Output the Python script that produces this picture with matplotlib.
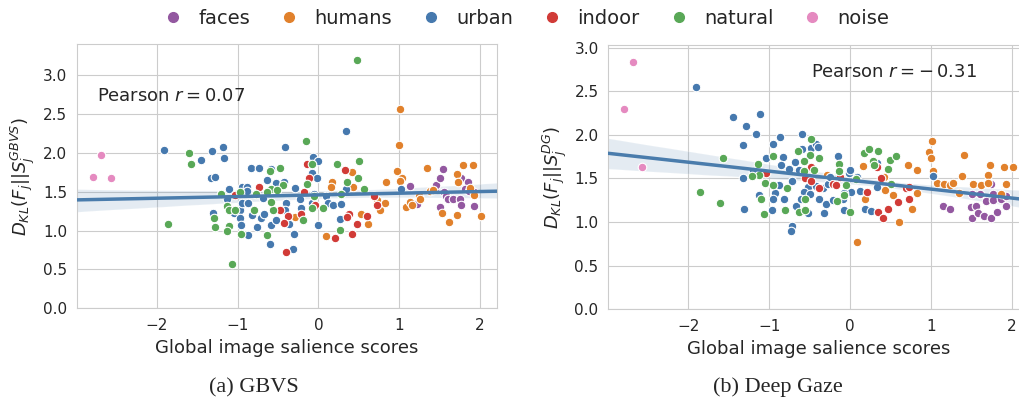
import matplotlib
matplotlib.use("Agg")
import matplotlib.pyplot as plt
from matplotlib.lines import Line2D
import seaborn as sns
import numpy as np

# (a) GBVS : x = global image salience score, y = D_KL
faces_a_x = [1.14, 1.22, 1.44, 1.46, 1.51, 1.51, 1.55, 1.54, 1.58, 1.61, 1.67, 1.75, 1.77, 1.77, 1.85, 1.81, 1.86, 1.92, 1.93]
faces_a_y = [1.57, 1.34, 1.53, 1.59, 1.67, 1.30, 1.50, 1.79, 1.44, 1.41, 1.41, 1.41, 1.33, 1.67, 1.62, 1.54, 1.51, 1.32, 1.50]
humans_a_x = [1.01, 1.00, 0.97, 1.03, 1.01, 0.41, 0.43, 0.17, 0.16, -0.29, 0.09, 0.53, 0.62, 0.72, 0.76, 0.83, 0.84, 1.08,
              1.13, 1.16, 1.24, 1.26, 1.35, 1.38, 1.42, 1.53, 1.62, 1.71, 1.73, 1.71, 1.79, 1.88, 1.91, 1.93, 2.01]
humans_a_y = [2.57, 2.10, 1.77, 1.68, 1.64, 1.75, 1.56, 1.62, 1.56, 1.18, 0.93, 1.21, 1.08, 1.39, 1.27, 1.36, 1.63, 1.30,
              1.37, 1.33, 1.45, 1.41, 1.81, 1.51, 1.52, 1.23, 1.11, 1.73, 1.63, 1.20, 1.84, 1.55, 1.84, 1.46, 1.19]
urban_a_x = [-1.91, -1.45, -1.32, -1.18, -1.17, -1.33, -1.28, -1.11, -1.13, -1.31, -1.04, -0.97, -0.97, -0.96, -0.87,
             -0.94, -0.88, -0.88, -0.94, -0.87, -0.82, -0.83, -0.73, -0.76, -0.71, -0.67, -0.68, -0.63, -0.58, -0.52,
             -0.59, -0.60, -0.52, -0.42, -0.41, -0.40, -0.41, -0.36, -0.30, -0.32, -0.29, -0.23, -0.21, -0.19, -0.07,
             0.00, -0.08, -0.02, -0.06, -0.08, 0.00, 0.10, 0.12, 0.18, 0.28, 0.27, 0.34, 0.34, 1.02]
urban_a_y = [2.03, 1.91, 2.02, 2.07, 1.93, 1.67, 1.69, 1.54, 1.41, 1.22, 1.22, 1.27, 1.16, 1.07, 0.94,
             1.56, 1.56, 1.51, 1.36, 1.36, 1.20, 1.81, 1.81, 1.04, 1.16, 1.21, 1.42, 1.65, 1.79, 1.61,
             1.07, 0.83, 1.14, 1.62, 2.07, 1.35, 1.27, 1.08, 0.96, 0.76, 1.55, 1.41, 1.29, 1.15, 1.95,
             1.89, 1.74, 1.67, 1.47, 1.36, 1.07, 1.44, 1.35, 1.33, 1.34, 1.15, 2.28, 1.53, 1.54]
indoor_a_x = [-1.03, -0.74, -0.14, -0.12, -0.18, -0.48, -0.38, -0.42, -0.40, -0.22, -0.04, 0.21, 0.33, 0.38, 0.35,
              0.41, 0.48, 0.60, 0.73, 0.69]
indoor_a_y = [1.46, 1.56, 1.86, 1.67, 1.49, 1.26, 1.19, 1.10, 0.72, 1.21, 1.33, 0.91, 1.78, 1.21, 1.17,
              0.95, 1.09, 1.19, 1.33, 1.44]
natural_a_x = [0.48, -1.60, -1.57, -1.86, -0.15, -0.60, -0.48, 0.50, 0.23, 0.49, 0.35, 0.57, -0.44, -0.58, -0.51,
               -0.63, -0.77, -1.20, -1.13, -1.10, -1.29, -1.28, -1.11, -1.13, -0.96, -0.64, -1.07, -0.56, -0.58,
               -0.08, -0.14, -0.08, 0.06, -0.05, 0.27, 0.28, -0.19, -0.80, -0.97, -1.03]
natural_a_y = [3.19, 2.00, 1.86, 1.08, 2.15, 1.76, 1.81, 1.90, 1.86, 1.68, 1.62, 1.53, 1.59, 1.53, 1.52,
               1.49, 1.47, 1.47, 1.32, 1.26, 1.16, 1.04, 1.06, 0.99, 0.96, 0.94, 0.57, 1.26, 1.37,
               1.86, 1.60, 1.29, 1.29, 1.44, 1.01, 1.47, 1.14, 1.26, 1.50, 1.26]
noise_a_x = [-2.79, -2.69, -2.57]
noise_a_y = [1.69, 1.97, 1.68]

# (b) Deep Gaze
faces_b_x = [1.15, 1.23, 1.51, 1.49, 1.51, 1.56, 1.58, 1.61, 1.66, 1.68, 1.74, 1.74, 1.77, 1.77, 1.82, 1.86, 1.93, 1.93]
faces_b_y = [1.19, 1.15, 1.32, 1.17, 1.05, 1.19, 1.10, 1.32, 1.07, 1.24, 1.44, 1.05, 1.32, 1.25, 1.12, 1.27, 1.19, 1.30]
humans_b_x = [1.01, 0.98, 1.00, 1.03, 0.16, 0.18, 0.08, -0.29, 0.42, 0.43, 0.53, 0.61, 0.71, 0.76, 0.83, 0.83,
              1.08, 1.16, 1.23, 1.27, 1.35, 1.38, 1.41, 1.52, 1.62, 1.70, 1.73, 1.71, 1.86, 1.90, 1.93, 2.01]
humans_b_y = [1.93, 1.80, 1.73, 1.58, 1.64, 1.26, 0.77, 1.54, 1.52, 1.37, 1.31, 1.00, 1.66, 1.15, 1.60, 1.33,
              1.45, 1.44, 1.43, 1.45, 1.33, 1.53, 1.77, 1.44, 1.42, 1.54, 1.66, 1.45, 1.32, 1.63, 1.44, 1.63]
urban_b_x = [-1.91, -1.45, -1.29, -1.11, -1.17, -1.33, -0.87, -0.96, -0.59, -0.83, -1.04, -0.86, -0.76, -0.68, -0.63,
             -0.49, -0.60, -0.42, -0.40, -1.32, -1.20, -0.88, -0.72, -0.52, -0.57, -0.50, -0.93, -0.96, -0.82, -1.13,
             -1.31, -0.97, -0.67, -0.61, -0.52, -0.72, -0.73, -0.42, -0.34, -0.38, -0.30, -0.32, -0.28, -0.21, -0.09,
             -0.08, 0.01, -0.08, -0.15, -0.02, 0.00, 0.09, 0.12, 0.18, 0.26, 0.33, 0.33, 1.02, -0.25]
urban_b_y = [2.55, 2.21, 2.10, 2.24, 2.01, 1.88, 1.98, 1.90, 2.01, 1.75, 1.73, 1.65, 1.61, 1.69, 1.60,
             1.85, 1.84, 1.90, 1.86, 1.51, 1.58, 1.43, 1.47, 1.40, 1.34, 1.32, 1.33, 1.27, 1.27, 1.31,
             1.15, 1.14, 1.19, 1.26, 1.10, 0.95, 0.90, 1.41, 1.39, 1.27, 1.21, 1.10, 1.44, 1.25, 1.26,
             1.14, 1.34, 1.33, 1.76, 1.56, 1.60, 1.52, 1.36, 1.15, 1.13, 1.40, 1.68, 1.53, 1.52]
indoor_b_x = [-1.04, -0.49, -0.56, -0.49, -0.38, -0.21, -0.17, -0.12, 0.21, 0.33, 0.35, 0.41, 0.38, 0.47, 0.59,
              0.69, 0.73, 0.73]
indoor_b_y = [1.56, 1.63, 1.50, 1.47, 1.39, 1.44, 1.42, 1.52, 1.34, 1.63, 1.11, 1.05, 1.51, 1.15, 1.23,
              1.39, 1.40, 1.27]
natural_b_x = [-1.57, -1.86, -1.61, -1.14, -1.13, -1.21, -1.10, -1.05, -0.96, -1.07, -0.80, -0.78, -0.96, -0.64,
               -0.49, -0.50, -0.57, -0.38, -0.45, -0.57, -0.63, -0.56, -0.56, -0.14, -0.14, -0.05, -0.07, 0.00,
               -0.16, 0.07, 0.17, 0.23, 0.35, 0.28, 0.29, 0.49, 0.47, 0.57, 0.50]
natural_b_y = [1.73, 1.34, 1.22, 1.67, 1.54, 1.53, 1.26, 1.45, 1.43, 1.09, 1.14, 1.39, 1.76, 1.82,
               1.95, 1.77, 1.70, 1.73, 1.60, 1.58, 1.11, 1.14, 1.26, 1.67, 1.58, 1.42, 1.31, 1.12,
               1.24, 1.49, 1.79, 1.84, 1.82, 1.70, 1.65, 1.71, 1.61, 1.76, 1.44]
noise_b_x = [-2.69, -2.80, -2.58]
noise_b_y = [2.83, 2.30, 1.63]

categories = ["faces", "humans", "urban", "indoor", "natural", "noise"]
colors = ["#9358a0", "#e1812c", "#4679ae", "#d13b37", "#59a857", "#e58ac0"]
line_color = "#4a7cac"

sns.set_style("whitegrid")
plt.rcParams['font.family'] = ['DejaVu Sans']

fig = plt.figure(figsize=(10.19, 4.08), dpi=100)
ax1 = fig.add_axes([0.0753, 0.2444, 0.4128, 0.6478])
ax2 = fig.add_axes([0.5970, 0.2419, 0.4131, 0.6478])

panels = [
    (ax1, [faces_a_x, humans_a_x, urban_a_x, indoor_a_x, natural_a_x, noise_a_x],
     [faces_a_y, humans_a_y, urban_a_y, indoor_a_y, natural_a_y, noise_a_y],
     3.4, r'$D_{KL}(F_j||S_j^{GBVS})$', (-2.74, 2.73), r'Pearson $r = 0.07$'),
    (ax2, [faces_b_x, humans_b_x, urban_b_x, indoor_b_x, natural_b_x, noise_b_x],
     [faces_b_y, humans_b_y, urban_b_y, indoor_b_y, natural_b_y, noise_b_y],
     3.03, r'$D_{KL}(F_j||S_j^{DG})$', (-0.48, 2.72), r'Pearson $r = -\,0.31$'),
]

for ax, xs, ys, ytop, ylab, tpos, ttxt in panels:
    ax.set_xlim(-2.99, 2.215)
    ax.set_ylim(0, ytop)
    for x, y, c in zip(xs, ys, colors):
        ax.scatter(x, y, s=38, color=c, edgecolor='white', linewidth=0.8, zorder=3)
    all_x = np.concatenate([np.array(v) for v in xs])
    all_y = np.concatenate([np.array(v) for v in ys])
    sns.regplot(x=all_x, y=all_y, scatter=False, truncate=False, ax=ax, color=line_color,
                line_kws={'linewidth': 2.5, 'zorder': 4}, seed=0)
    ax.set_xlim(-2.99, 2.215)
    ax.set_ylim(0, ytop)
    ax.set_yticks(np.arange(0, 3.01, 0.5))
    ax.set_xticks([-2, -1, 0, 1, 2])
    ax.tick_params(labelsize=11, colors='.15')
    ax.set_xlabel('Global image salience scores', fontsize=13, color='.15')
    ax.set_ylabel(ylab, fontsize=13, color='.15')
    ax.text(tpos[0], tpos[1], ttxt, fontsize=13, va='center', color='.15')

handles = [Line2D([], [], marker='o', linestyle='', color=c, markersize=7) for c in colors]
fig.legend(handles, categories, loc='center', bbox_to_anchor=(0.512, 0.955), ncol=6,
           frameon=False, fontsize=14, handletextpad=0.3, columnspacing=1.0)

fig.text(0.249, 0.05, '(a) GBVS', fontsize=16, family='Liberation Serif', ha='center', va='center')
fig.text(0.763, 0.05, '(b) Deep Gaze', fontsize=16, family='Liberation Serif', ha='center', va='center')

fig.savefig('out.png', dpi=100)
